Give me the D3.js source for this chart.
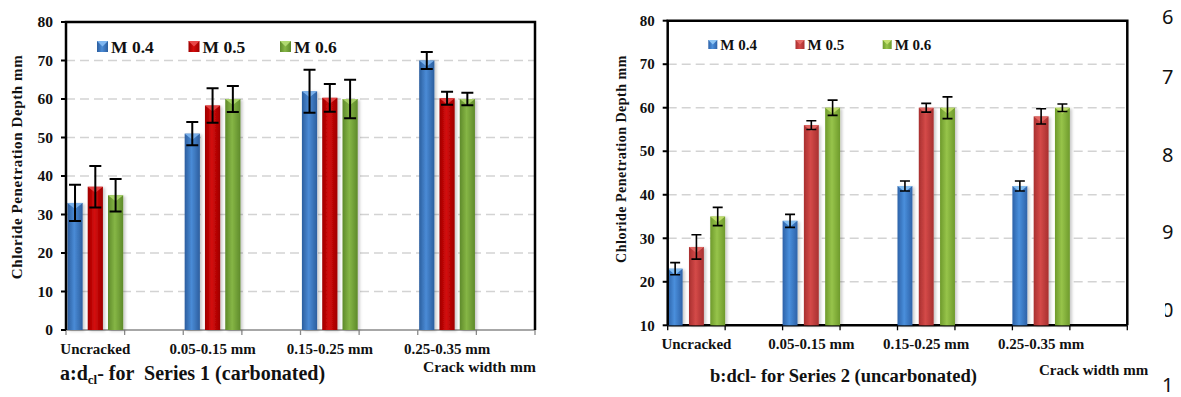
<!DOCTYPE html>
<html><head><meta charset="utf-8">
<script src="https://cdn.jsdelivr.net/npm/d3@7"></script>
<style>
html,body{margin:0;padding:0;background:#fff;}
svg{display:block;font-family:"Liberation Serif","Times New Roman",serif;}
text{font-weight:bold;fill:#111;}
</style></head>
<body><svg id="c" width="1181" height="397"></svg>
<script>
const categories = ["Uncracked","0.05-0.15 mm","0.15-0.25 mm","0.25-0.35 mm"];
const seriesNames = ["M 0.4","M 0.5","M 0.6"];
// Chart a (Series 1, carbonated)
const aM04 = [33, 51, 62, 70];
const aM05 = [37.2, 58.3, 60.3, 60.2];
const aM06 = [35, 60, 60, 60];
const aErr04 = [4.7, 3.0, 5.6, 2.2];
const aErr05 = [5.4, 4.5, 3.6, 1.7];
const aErr06 = [4.2, 3.4, 5.0, 1.6];
const aTicks = [0,10,20,30,40,50,60,70,80];
// Chart b (Series 2, uncarbonated)
const bM04 = [23, 34, 42, 42];
const bM05 = [28, 56, 60, 58];
const bM06 = [35, 60, 60, 60];
const bErr04 = [1.4, 1.5, 1.15, 1.15];
const bErr05 = [2.8, 1.0, 1.0, 1.75];
const bErr06 = [2.1, 1.75, 2.5, 0.85];
const bTicks = [10,20,30,40,50,60,70,80];
const sideNumbers = ["6","7","8","9","0","1"];

const svg = d3.select("#c");
const defs = svg.append("defs");
defs.append("filter").attr("id","sh").attr("x","-30%").attr("y","-10%").attr("width","180%").attr("height","130%")
  .append("feDropShadow").attr("dx",2).attr("dy",1).attr("stdDeviation",1.6).attr("flood-color","#000").attr("flood-opacity",0.22);

function grad(id, dark, light){
  const g = defs.append("linearGradient").attr("id",id).attr("x1","0").attr("x2","1").attr("y1","0").attr("y2","0");
  g.append("stop").attr("offset","0%").attr("stop-color",dark);
  g.append("stop").attr("offset","45%").attr("stop-color",light);
  g.append("stop").attr("offset","100%").attr("stop-color",dark);
}
grad("ga0","#2c5e9e","#4a8bd6");
grad("ga1","#9e0000","#d40b0b");
grad("ga2","#5e8a2a","#86b646");
grad("gb0","#2d62a8","#4a8fdc");
grad("gb1","#a83030","#d44a48");
grad("gb2","#6e9a2c","#97c44a");

function drawChart(o){
  const g = svg.append("g");
  const slots = [];
  o.cats.forEach((c,i)=>{ slots.push(c); slots.push("_gap"+i); });
  const x = d3.scaleBand().domain(slots).range([o.x0,o.x1]).padding(0);
  const xs = d3.scaleBand().domain(d3.range(o.series.length)).range([0,x.bandwidth()]).paddingInner(o.pin).paddingOuter(o.pout);
  const y = d3.scaleLinear().domain([o.ticks[0], o.ticks[o.ticks.length-1]]).range([o.y0,o.y1]);

  // gridlines
  g.append("g").selectAll("line").data(o.ticks.slice(1,-1)).join("line")
    .attr("x1",o.x0).attr("x2",o.x1).attr("y1",d=>y(d)).attr("y2",d=>y(d))
    .attr("stroke","#d3d3d3").attr("stroke-width",1.5).attr("stroke-dasharray","9,5");

  // bottom axis
  const xb = g.append("g").attr("transform",`translate(0,${o.y0})`);
  xb.append("line").attr("x1",o.x0).attr("x2",o.x1).attr("stroke",o.bottomColor).attr("stroke-width",o.bottomW);
  const bounds = slots.map(s=>x(s)).concat([o.x1]);
  xb.selectAll("line.t").data(bounds).join("line").attr("class","t")
    .attr("x1",d=>d).attr("x2",d=>d).attr("y1",0).attr("y2",5)
    .attr("stroke",o.bottomColor).attr("stroke-width",1.3);

  // bars
  o.series.forEach((vals,si)=>{
    const gg = g.append("g");
    vals.forEach((v,ci)=>{
      const bx = x(o.cats[ci]) + xs(si), bw = xs.bandwidth();
      const top = y(v), bot = y(o.ticks[0]);
      gg.append("rect").attr("x",bx).attr("y",top).attr("width",bw).attr("height",bot-top)
        .attr("fill",`url(#${o.gid}${si})`).attr("filter","url(#sh)");
      gg.append("path").attr("d",`M${bx},${top}L${bx+bw},${top}L${bx+bw/2},${top+6}Z`)
        .attr("fill",o.tri[si]).attr("opacity",0.9);
    });
  });
  // error bars
  o.series.forEach((vals,si)=>{
    vals.forEach((v,ci)=>{
      const cx = x(o.cats[ci]) + xs(si) + xs.bandwidth()/2;
      const e = o.errs[si][ci];
      const yt = y(v+e), yb = y(v-e), hw = o.cap;
      g.append("path").attr("d",`M${cx},${yt}V${yb}M${cx-hw},${yt}H${cx+hw}M${cx-hw},${yb}H${cx+hw}`)
        .attr("stroke","#000").attr("stroke-width",o.ew).attr("fill","none");
    });
  });

  // frame: left, top, right
  g.append("path").attr("d",`M${o.x0},${o.y0}V${o.y1}H${o.x1}V${o.y0}`)
    .attr("fill","none").attr("stroke","#000").attr("stroke-width",2.5);
  // y ticks
  g.append("g").selectAll("line").data(o.ticks).join("line")
    .attr("x1",o.x0-5).attr("x2",o.x0).attr("y1",d=>y(d)).attr("y2",d=>y(d))
    .attr("stroke","#000").attr("stroke-width",2);
  g.append("g").selectAll("text").data(o.ticks).join("text")
    .attr("x",o.x0-13).attr("y",d=>y(d)).attr("dy","0.35em").attr("text-anchor","end")
    .attr("font-size",o.tickFs).text(d=>d);

  // x labels
  g.append("g").selectAll("text").data(o.cats).join("text")
    .attr("x",d=>x(d)+x.bandwidth()/2).attr("y",o.xlabY).attr("text-anchor","middle")
    .attr("font-size",o.xFs).text(d=>d);

  // y title
  g.append("text").attr("transform",`translate(${o.ytX},${o.ytY}) rotate(-90)`)
    .attr("text-anchor","middle").attr("font-size",o.ytFs).attr("letter-spacing",o.ytLs).text("Chloride Penetration Depth mm");

  // legend
  o.series.forEach((s,si)=>{
    const lx = o.legX + si*o.legStep;
    g.append("rect").attr("x",lx).attr("y",o.legY-o.legSq/2).attr("width",o.legSq).attr("height",o.legSq)
      .attr("fill",`url(#${o.gid}${si})`);
    g.append("path").attr("d",`M${lx},${o.legY-o.legSq/2}h${o.legSq}l${-o.legSq/2},${o.legSq/2}Z`).attr("fill",o.tri[si]);
    g.append("text").attr("x",lx+o.legSq+3).attr("y",o.legY).attr("dy","0.36em")
      .attr("font-size",o.legFs).text(seriesNames[si]);
  });

  // crack width
  g.append("text").attr("x",o.cwX).attr("y",o.cwY).attr("font-size",o.cwFs).text("Crack width mm");
  return g;
}

const gA = drawChart({
  cats:categories, series:[aM04,aM05,aM06], errs:[aErr04,aErr05,aErr06], ticks:aTicks,
  x0:66, x1:535, y0:330, y1:22, pin:0.25, pout:0.07, gid:"ga",
  tri:["#7fb6f0","#e84848","#b0d870"], bottomColor:"#8a8a8a", bottomW:1.3,
  cap:6, ew:2, tickFs:15.5, xFs:15, xlabY:354,
  ytX:22, ytY:167, ytFs:15, ytLs:0.6,
  legX:97, legStep:91.5, legY:46.5, legSq:11, legFs:17.5,
  cwX:423, cwY:371.5, cwFs:15.5
});
const tA = gA.append("text").attr("x",60).attr("y",380).attr("font-size",20).style("white-space","pre");
tA.append("tspan").text("a:d");
tA.append("tspan").attr("font-size",13).attr("dy",4).text("cl");
tA.append("tspan").attr("dy",-4).text("- for  Series 1 (carbonated)");

const gB = drawChart({
  cats:categories, series:[bM04,bM05,bM06], errs:[bErr04,bErr05,bErr06], ticks:bTicks,
  x0:667.7, x1:1127.3, y0:325.3, y1:20.7, pin:0.3, pout:0.0, gid:"gb",
  tri:["#8cc4f4","#e46a66","#c4e070"], bottomColor:"#000", bottomW:2.5,
  cap:5, ew:1.6, tickFs:15, xFs:15, xlabY:349,
  ytX:626, ytY:159, ytFs:14, ytLs:0.5,
  legX:708.3, legStep:87.2, legY:44.5, legSq:9, legFs:15,
  cwX:1039, cwY:375, cwFs:15
});
gB.append("text").attr("x",710).attr("y",382).attr("font-size",18.5).text("b:dcl- for Series 2 (uncarbonated)");

// side numbers (cropped page line numbers)
const sideY = [17, 77, 155, 232, 310, 385];
const clip = defs.append("clipPath").attr("id","cl0");
clip.append("rect").attr("x",1165).attr("y",0).attr("width",30).attr("height",397);
svg.append("g").selectAll("text").data(sideNumbers).join("text")
  .attr("x",1162).attr("y",(d,i)=>sideY[i]).attr("dy","0.36em")
  .attr("clip-path",(d,i)=>d==="0"?"url(#cl0)":null)
  .style("font-family","'Noto Sans','Open Sans',sans-serif").style("font-weight","normal")
  .attr("font-size",20).attr("fill","#222").text(d=>d);
</script></body></html>
